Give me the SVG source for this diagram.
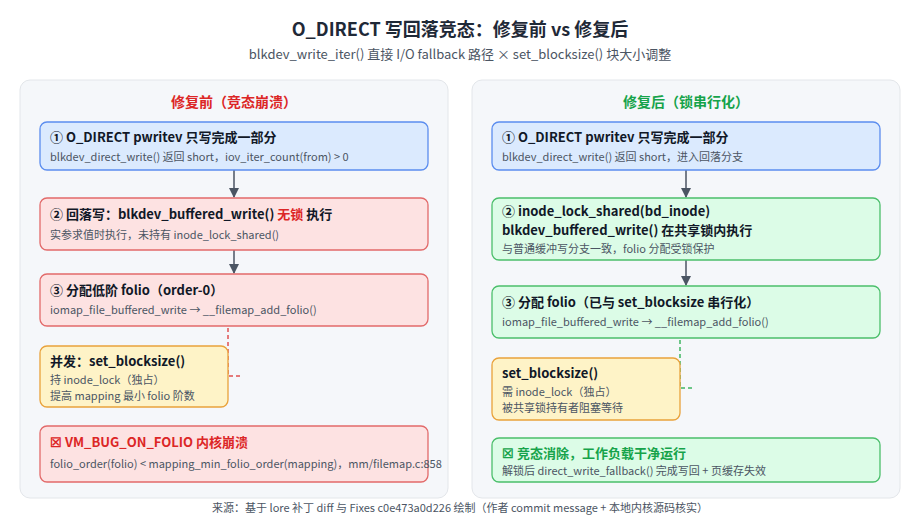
<svg xmlns="http://www.w3.org/2000/svg" width="920" height="520" viewBox="0 0 920 520">
<style>
text{font-family:"Noto Sans CJK SC","Noto Sans",sans-serif}
.t{font-size:16px;font-weight:bold;fill:#1f2937}
.s{font-size:13px;fill:#4b5563}
.h{font-size:13px;font-weight:bold;fill:#111827}
.d{font-size:11px;fill:#4b5563}
.panel{fill:#f5f7fa;stroke:#e3e6ea}
.red{fill:#fde2e2;stroke:#e26a6a;stroke-width:1.3}
.blue{fill:#dbeafe;stroke:#5b8def;stroke-width:1.3}
.grn{fill:#dcfce7;stroke:#4bbf6b;stroke-width:1.3}
.yel{fill:#fef3c7;stroke:#e9a23b;stroke-width:1.3}
.ar{stroke:#4b5563;stroke-width:1.5;fill:none;marker-end:url(#a)}
</style>
<defs><marker id="a" viewBox="0 0 10 10" refX="9" refY="5" markerWidth="7" markerHeight="7" orient="auto"><path d="M0,0L10,5L0,10z" fill="#4b5563"/></marker></defs>
<rect width="920" height="520" fill="#fff"/>
<text x="460" y="36" text-anchor="middle" class="t" style="font-size:18px">O_DIRECT 写回落竞态：修复前 vs 修复后</text>
<text x="460" y="59" text-anchor="middle" class="s">blkdev_write_iter() 直接 I/O fallback 路径 × set_blocksize() 块大小调整</text>
<rect class="panel" x="20" y="80" width="428" height="418" rx="10"/>
<rect class="panel" x="472" y="80" width="428" height="418" rx="10"/>
<text x="234" y="107" text-anchor="middle" style="font-size:14px;font-weight:bold;fill:#dc2626">修复前（竞态崩溃）</text>
<text x="686" y="107" text-anchor="middle" style="font-size:14px;font-weight:bold;fill:#16a34a">修复后（锁串行化）</text>
<g id="connectors">
<path class="ar" d="M234,170V197"/><path class="ar" d="M234,250V273"/>
<path class="ar" d="M686,170V197"/><path class="ar" d="M686,260V285"/>
<path d="M228,300V376H240" stroke="#e05252" stroke-width="1.5" stroke-dasharray="4 3" fill="none"/>
<path d="M680,312V388H692" stroke="#3fb662" stroke-width="1.5" stroke-dasharray="4 3" fill="none"/>
</g>
<g id="l1"><rect class="blue" x="40" y="122" width="388" height="48" rx="7"/><text x="50" y="142" class="h">① O_DIRECT pwritev 只写完成一部分</text><text x="50" y="161" class="d">blkdev_direct_write() 返回 short，iov_iter_count(from) &gt; 0</text></g>
<g id="l2"><rect class="red" x="40" y="198" width="388" height="52" rx="7"/><text x="50" y="219" class="h">② 回落写：blkdev_buffered_write() <tspan fill="#dc2626">无锁</tspan> 执行</text><text x="50" y="239" class="d">实参求值时执行，未持有 inode_lock_shared()</text></g>
<g id="l3"><rect class="red" x="40" y="274" width="388" height="52" rx="7"/><text x="50" y="295" class="h">③ 分配低阶 folio（order-0）</text><text x="50" y="314" class="d">iomap_file_buffered_write → __filemap_add_folio()</text></g>
<g id="l4"><rect class="yel" x="40" y="346" width="188" height="61" rx="7"/><text x="50" y="366" class="h">并发：set_blocksize()</text><text x="50" y="384" class="d">持 inode_lock（独占）</text><text x="50" y="400" class="d">提高 mapping 最小 folio 阶数</text></g>
<g id="l5"><rect class="red" x="40" y="426" width="388" height="56" rx="7"/><text x="50" y="447" class="h" style="fill:#dc2626">☒ VM_BUG_ON_FOLIO 内核崩溃</text><text x="50" y="468" class="d">folio_order(folio) &lt; mapping_min_folio_order(mapping)，mm/filemap.c:858</text></g>
<g id="r1"><rect class="blue" x="492" y="122" width="388" height="48" rx="7"/><text x="502" y="142" class="h">① O_DIRECT pwritev 只写完成一部分</text><text x="502" y="161" class="d">blkdev_direct_write() 返回 short，进入回落分支</text></g>
<g id="r2"><rect class="grn" x="492" y="198" width="388" height="62" rx="7"/><text x="502" y="216" class="h">② inode_lock_shared(bd_inode)</text><text x="502" y="235" class="h">blkdev_buffered_write() 在共享锁内执行</text><text x="502" y="253" class="d">与普通缓冲写分支一致，folio 分配受锁保护</text></g>
<g id="r3"><rect class="grn" x="492" y="286" width="388" height="52" rx="7"/><text x="502" y="307" class="h">③ 分配 folio（已与 set_blocksize 串行化）</text><text x="502" y="326" class="d">iomap_file_buffered_write → __filemap_add_folio()</text></g>
<g id="r4"><rect class="yel" x="492" y="358" width="188" height="62" rx="7"/><text x="502" y="378" class="h">set_blocksize()</text><text x="502" y="396" class="d">需 inode_lock（独占）</text><text x="502" y="412" class="d">被共享锁持有者阻塞等待</text></g>
<g id="r5"><rect class="grn" x="492" y="438" width="388" height="44" rx="7"/><text x="502" y="458" class="h" style="fill:#16a34a">☒ 竞态消除，工作负载干净运行</text><text x="502" y="475" class="d">解锁后 direct_write_fallback() 完成写回 + 页缓存失效</text></g>
<text x="460" y="512" text-anchor="middle" class="d">来源：基于 lore 补丁 diff 与 Fixes c0e473a0d226 绘制（作者 commit message + 本地内核源码核实）</text>
</svg>
